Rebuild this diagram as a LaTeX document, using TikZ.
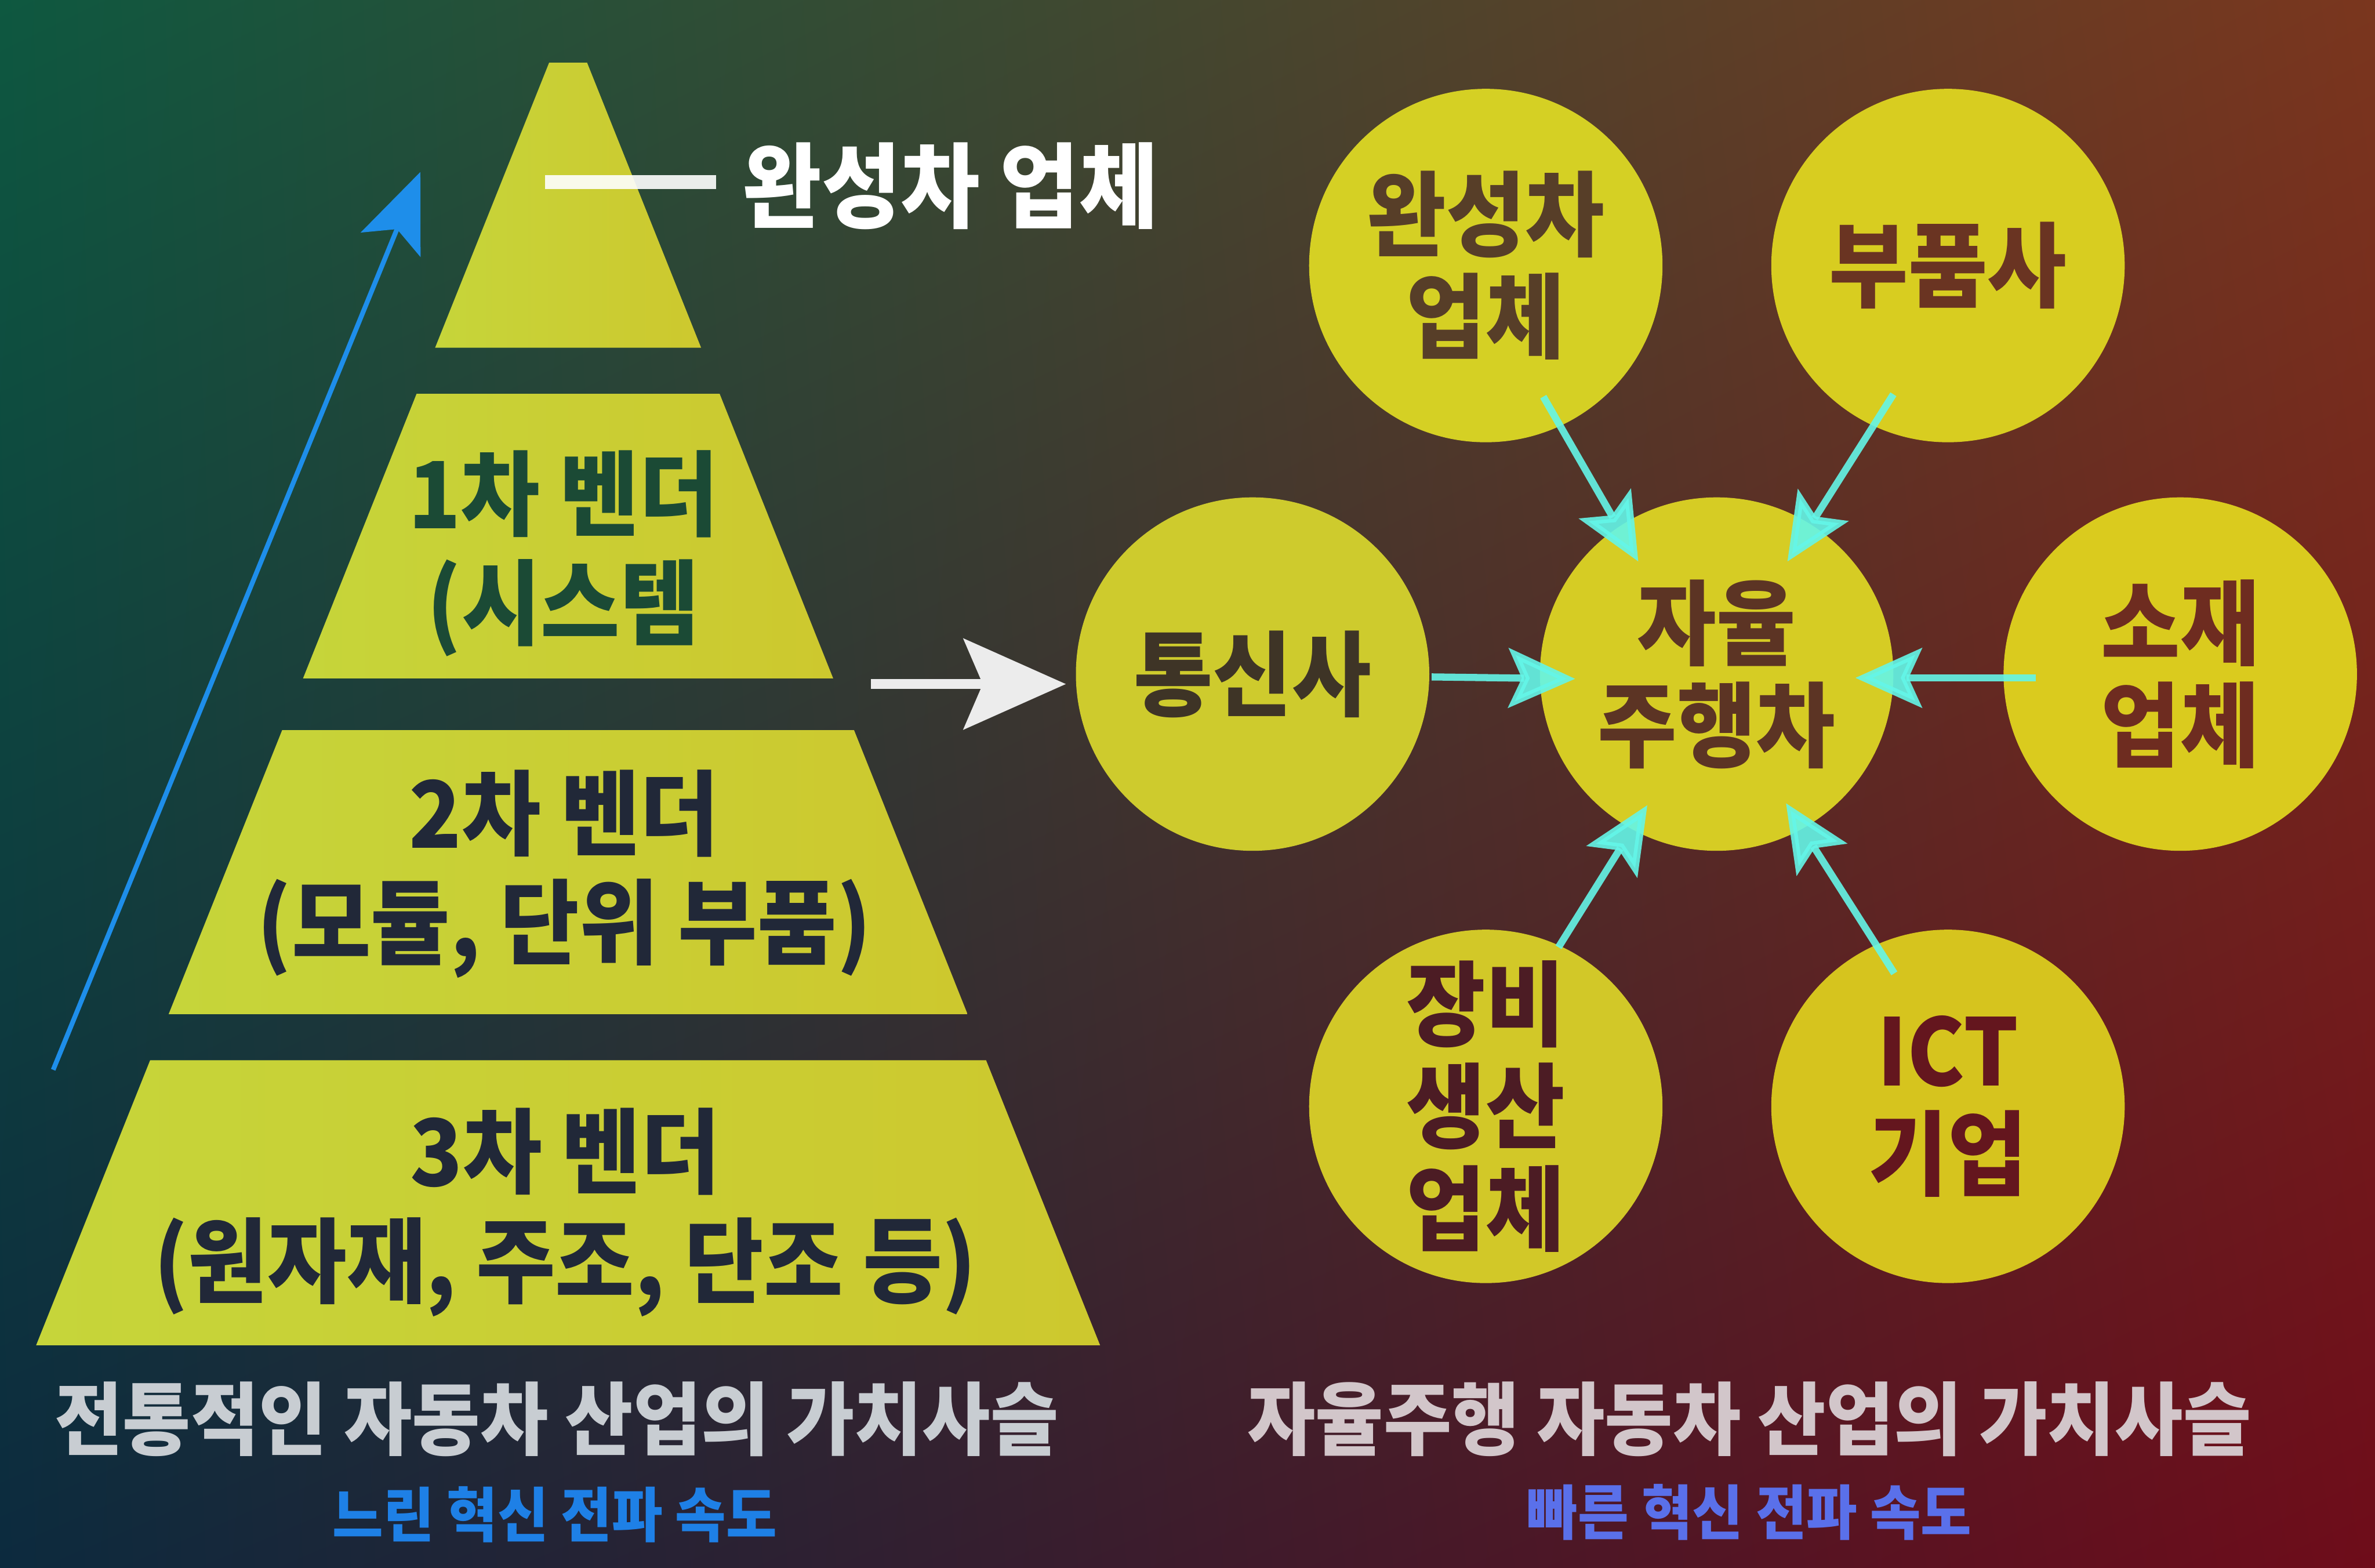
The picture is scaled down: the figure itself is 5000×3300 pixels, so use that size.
\documentclass[tikz,border=0pt]{standalone}
\usepackage{fontspec}
\IfFontExistsTF{Noto Sans CJK KR Black}
  {\newfontfamily\kr{Noto Sans CJK KR Black}[FakeStretch=0.93]\newcommand\krw{\kr}}
  {\newfontfamily\kr{Noto Sans CJK KR}[FakeStretch=0.95]\newcommand\krw{\kr\bfseries}}
\usetikzlibrary{arrows.meta,calc,shadings}
\definecolor{bgTL}{RGB}{14,88,64}
\definecolor{bgTR}{RGB}{122,54,30}
\definecolor{bgBL}{RGB}{12,42,62}
\definecolor{bgBR}{RGB}{110,12,26}
\definecolor{pyrL}{RGB}{198,213,58}
\definecolor{pyrR}{RGB}{205,200,46}
\definecolor{txtGreen}{RGB}{27,74,53}
\definecolor{txtNavy}{RGB}{33,40,56}
\definecolor{arrBlue}{RGB}{30,142,234}
\definecolor{arrWhite}{RGB}{236,236,236}
\definecolor{arrCyan}{RGB}{100,246,232}
\definecolor{titleL}{RGB}{200,205,210}
\definecolor{titleR}{RGB}{210,198,202}
\definecolor{subL}{RGB}{30,128,230}
\definecolor{subR}{RGB}{90,112,234}
\definecolor{cWan}{RGB}{213,208,36}
\definecolor{cBu}{RGB}{216,205,32}
\definecolor{cTel}{RGB}{206,203,45}
\definecolor{cAuto}{RGB}{214,204,36}
\definecolor{cSo}{RGB}{218,203,30}
\definecolor{cJang}{RGB}{210,200,40}
\definecolor{cIct}{RGB}{214,196,30}
\definecolor{tWan}{RGB}{87,62,40}
\definecolor{tBu}{RGB}{106,52,34}
\definecolor{tTel}{RGB}{62,52,38}
\definecolor{tAuto}{RGB}{92,52,36}
\definecolor{tSo}{RGB}{110,44,32}
\definecolor{tJang}{RGB}{76,28,36}
\definecolor{tIct}{RGB}{100,22,30}
\begin{document}
\begin{tikzpicture}[x=0.2pt,y=-0.2pt,
  tier/.style={left color=pyrL,right color=pyrR},
  tiertext/.style={font=\krw\fontsize{39}{46}\selectfont,align=center,inner sep=0pt},
  bubble/.style={circle,minimum size=148.8pt,inner sep=0pt,align=center,
    font=\krw\fontsize{39}{43}\selectfont},
  link/.style={draw=arrCyan,line width=3pt,opacity=.9,
    -{Stealth[length=28pt,width=25pt,inset=5.6pt]}},
  title/.style={font=\krw\fontsize{33.5}{36}\selectfont,inner sep=0pt},
  subtitle/.style={font=\krw\fontsize{25}{28}\selectfont,inner sep=0pt}]
\useasboundingbox (0,0) rectangle (5000,3300);
\shade[upper left=bgTL,upper right=bgTR,lower left=bgBL,lower right=bgBR]
  (0,0) rectangle (5000,3300);

% pyramid tiers
\shade[tier] (1156,132) -- (1236,132) -- (1476,732) -- (916,732) -- cycle;
\shade[tier] (877,829) -- (1515,829) -- (1754,1428) -- (638,1428) -- cycle;
\shade[tier] (594,1537) -- (1798,1537) -- (2037,2135) -- (355,2135) -- cycle;
\shade[tier] (316,2232) -- (2076,2232) -- (2316,2832) -- (76,2832) -- cycle;

\node[tiertext,text=txtGreen] (t1) at (1186,1165) {1차 벤더\\(시스템};
\node[tiertext,text=txtNavy] (t2) at (1188,1840) {2차 벤더\\(모듈, 단위 부품)};
\node[tiertext,text=txtNavy] (t3) at (1190,2552) {3차 벤더\\(원자재, 주조, 단조 등)};

% top label with white line
\node[anchor=west,inner sep=0pt,text=white,font=\krw\fontsize{39}{43}\selectfont]
  (oem) at (1562,391) {완성차 업체};
\coordinate (lineStart) at (1148,383);
\draw[white,opacity=.9,line width=5.8pt,shorten >=11pt] (lineStart) -- (lineStart -| oem.west);

% blue arrow
\coordinate (blueStart) at (112,2252);
\coordinate (blueEnd) at (885,362);
\draw[arrBlue,line width=2pt,-{Stealth[length=33pt,width=27pt,inset=7pt]}] (blueStart) -- (blueEnd);

% circles
\node[bubble,fill=cWan,text=tWan] (wan) at (3128,559) {완성차\\업체};
\node[bubble,fill=cBu,text=tBu] (bu) at (4101,559) {부품사};
\node[bubble,fill=cTel,text=tTel] (tel) at (2637,1419) {통신사};
\node[bubble,fill=cAuto,text=tAuto] (auto) at (3614,1419) {자율\\주행차};
\node[bubble,fill=cSo,text=tSo] (so) at (4590,1419) {소재\\업체};
\node[bubble,fill=cJang,text=tJang] (jang) at (3128,2329) {장비\\생산\\업체};
\node[bubble,fill=cIct,text=tIct] (ict) at (4101,2329) {ICT\\기업};

% white arrow from pyramid to circles
\coordinate (whiteStart) at (1834,1440);
\draw[arrWhite,line width=4pt,shorten >=4pt,-{Stealth[length=43pt,width=38pt,inset=8pt]}]
  (whiteStart) -- (whiteStart -| tel.west);

% cyan arrows
\draw[link] ($(wan)+(121,276)$) -- ($(auto)+(-165,-237)$);
\draw[link] ($(bu)+(-115,271)$) -- ($(auto)+(149,-237)$);
\draw[link] ($(tel)+(377,6)$) -- ($(auto)+(-298,10)$);
\draw[link] ($(so)+(-304,8)$) -- ($(auto)+(292,8)$);
\draw[link] ($(jang)+(153,-335)$) -- ($(auto)+(-146,276)$);
\draw[link] ($(ict)+(-113,-280)$) -- ($(auto)+(146,272)$);

% bottom titles
\node[title,text=titleL] (ltitle) at (1172,2987) {전통적인 자동차 산업의 가치사슬};
\node[subtitle,text=subL] (lsub) at (1168,3188) {느린 혁신 전파 속도};
\node[title,text=titleR] (rtitle) at (3683,2987) {자율주행 자동차 산업의 가치사슬};
\node[subtitle,text=subR] (rsub) at (3683,3183) {빠른 혁신 전파 속도};
\end{tikzpicture}
\end{document}
